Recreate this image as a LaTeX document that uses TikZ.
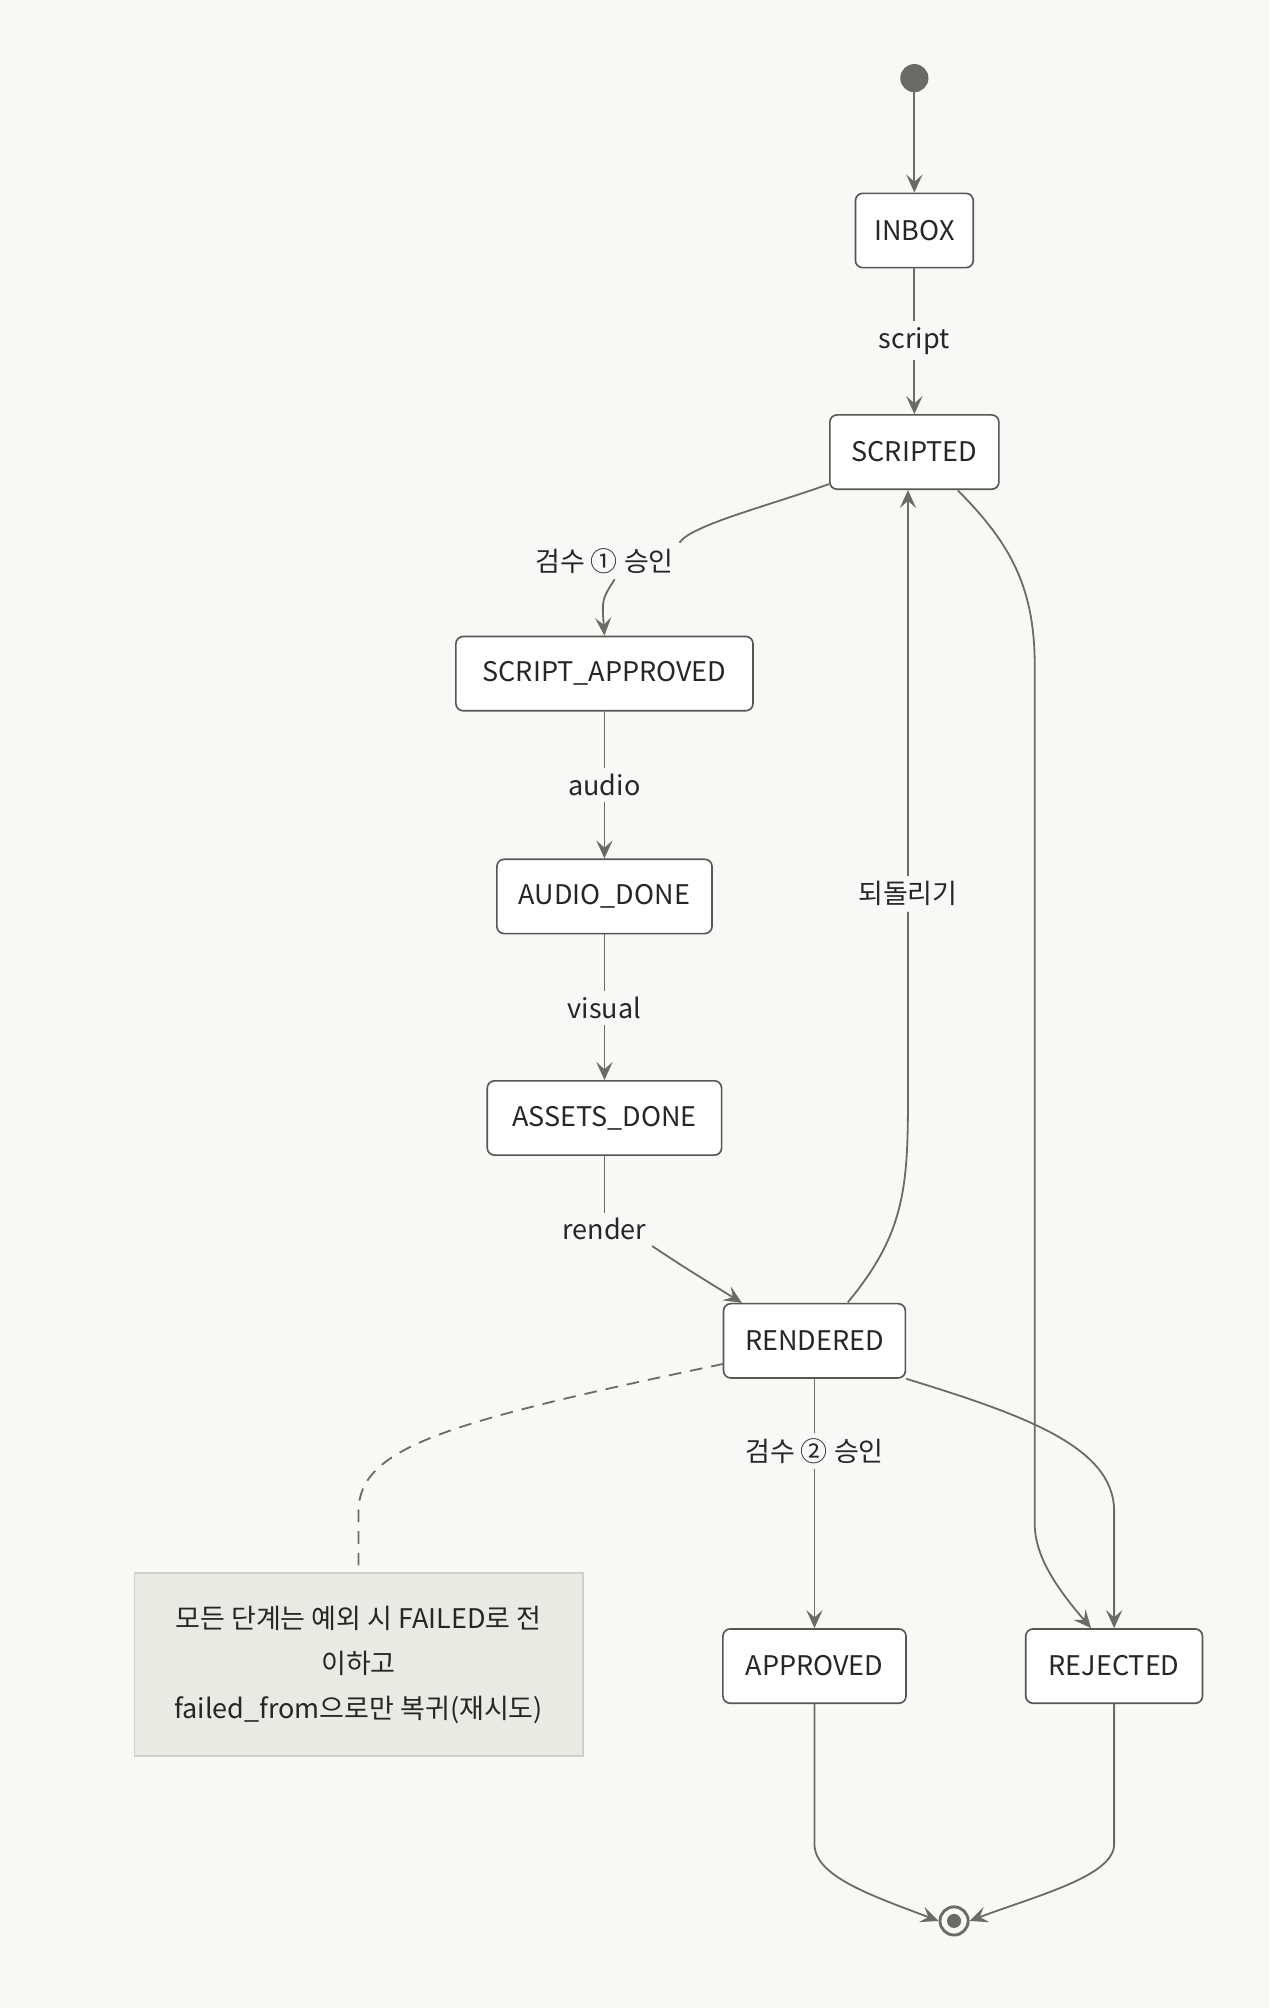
\documentclass[tikz,border=0pt]{standalone}
\usepackage{fontspec}
\setmainfont{Noto Sans CJK KR}
\usetikzlibrary{arrows.meta}
\definecolor{bgc}{HTML}{F8F8F6}
\definecolor{linec}{HTML}{6B6B66}
\definecolor{notec}{HTML}{E9EAE4}
\definecolor{notedraw}{HTML}{CFD0C8}
\tikzset{
  state/.style={draw=linec!80!black,fill=white,rounded corners=4pt,minimum height=58*0.025cm,
    line width=0.9pt,inner xsep=10pt,font=\fontsize{15}{18}\selectfont,text=black!85},
  lbl/.style={fill=bgc,inner sep=3pt,font=\fontsize{15}{18}\selectfont,text=black!85},
  trans/.style={draw=linec,line width=1pt,-{Stealth[length=10pt,width=9pt,inset=4pt]}},
  plain/.style={draw=linec,line width=1pt}
}
\begin{document}
\begin{tikzpicture}[x=0.025cm,y=-0.025cm]
  \fill[bgc] (0,0) rectangle (991,1568);
  \useasboundingbox (0,0) rectangle (991,1568);
  % states
  \fill[linec] (714,61) circle (11);
  \coordinate (start) at (714,61);
  \node[state,minimum width=92*0.025cm] (inbox) at (714,180) {INBOX};
  \node[state,minimum width=132*0.025cm] (scripted) at (714,353) {SCRIPTED};
  \node[state,minimum width=232*0.025cm] (sapproved) at (472,526) {SCRIPT\_APPROVED};
  \node[state,minimum width=168*0.025cm] (audio) at (472,700) {AUDIO\_DONE};
  \node[state,minimum width=183*0.025cm] (assets) at (472,873) {ASSETS\_DONE};
  \node[state,minimum width=142*0.025cm] (rendered) at (636,1047) {RENDERED};
  \node[state,minimum width=143*0.025cm] (approved) at (636,1301) {APPROVED};
  \node[state,minimum width=138*0.025cm] (rejected) at (870,1301) {REJECTED};
  \node[circle,draw=linec,line width=1.6pt,minimum size=22*0.025cm,inner sep=0pt] (end) at (745,1500) {};
  \fill[linec] (end) circle (5.5);
  % note
  \node[draw=notedraw,fill=notec,line width=1pt,minimum width=350*0.025cm,minimum height=143*0.025cm,
    align=center,font=\fontsize{15}{25}\selectfont,text=black!85] (note) at (280,1300)
    {모든 단계는 예외 시 FAILED로 전\\이하고\\failed\_from으로만 복귀(재시도)};
  % labels
  \node[lbl] (lscript) at (714,266) {script};
  \node[lbl] (lrev1) at (472,438) {검수 ① 승인};
  \node[lbl] (laudio) at (472,613) {audio};
  \node[lbl] (lvisual) at (472,787) {visual};
  \node[lbl] (lrender) at (472,960) {render};
  \node[lbl] (lback) at (709,698) {되돌리기};
  \node[lbl] (lrev2) at (636,1133) {검수 ② 승인};
  % transitions
  \draw[trans] (start) -- (inbox);
  \draw[plain] (inbox) -- (lscript);
  \draw[trans] (lscript) -- (scripted);
  \draw[plain] (scripted.west |- 0,378) .. controls (600,395) and (540,410) .. (lrev1.north east);
  \draw[trans] (lrev1.south) ++(8,0) .. controls (470,468) .. (sapproved.north);
  \draw[plain] (sapproved) -- (laudio);
  \draw[trans] (laudio) -- (audio);
  \draw[plain] (audio) -- (lvisual);
  \draw[trans] (lvisual) -- (assets);
  \draw[plain] (assets.south) .. controls (472,930) .. (lrender.north);
  \draw[trans] (lrender.south east) .. controls (535,990) .. ([xshift=15*0.025cm]rendered.north west);
  \draw[plain] (662,1017) .. controls (705,965) and (709,930) .. (709,860) -- (lback.south);
  \draw[trans] (lback.north) -- (scripted.south -| 709,0);
  \draw[trans] (748,383) .. controls (790,425) and (808,460) .. (808,520) -- (808,1190)
    .. controls (808,1215) and (825,1240) .. ([xshift=-18*0.025cm]rejected.north);
  \draw[trans] (rendered.south east) .. controls (800,1105) and (870,1130) .. (870,1180)
    -- (rejected.north);
  \draw[plain] (rendered) -- (lrev2);
  \draw[trans] (lrev2) -- (approved);
  \draw[trans] (approved.south) -- (636,1440) .. controls (636,1465) and (680,1480) .. (end.west);
  \draw[trans] (rejected.south) -- (870,1440) .. controls (870,1465) and (810,1480) .. (end.east);
  \draw[plain,dashed,dash pattern=on 7pt off 5pt] (565,1065) .. controls (350,1110) and (280,1130) .. (280,1180) -- (note.north);
\end{tikzpicture}
\end{document}
